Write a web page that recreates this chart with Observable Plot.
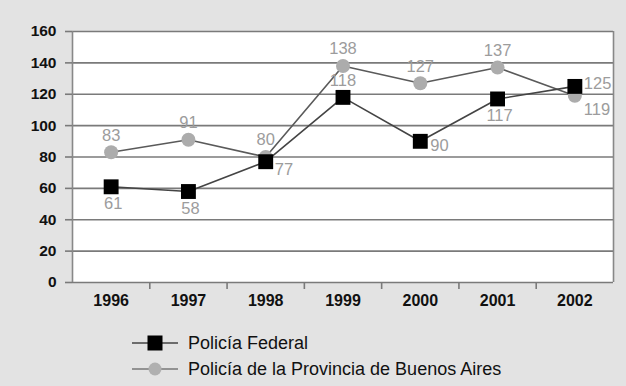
<!DOCTYPE html>
<html>
<head>
<meta charset="utf-8">
<script src="https://cdn.jsdelivr.net/npm/d3@7"></script>
<script src="https://cdn.jsdelivr.net/npm/@observablehq/plot@0.6"></script>
<style>
  html, body { margin: 0; padding: 0; background: #e3e3e3; width: 626px; height: 386px; overflow: hidden; font-family: "Liberation Sans", Arial, sans-serif; }
  #wrap { position: relative; width: 626px; height: 386px; }
  #legend { position: absolute; left: 130px; top: 330px; }
  .row { display: flex; align-items: center; height: 26px; }
  .row svg { display: block; margin-right: 8px; }
  .row span { font-size: 18px; color: #111; }
</style>
</head>
<body>
<div id="wrap">
  <div id="chart"></div>
  <div id="legend"></div>
</div>
<script>
const years = [1996, 1997, 1998, 1999, 2000, 2001, 2002];
const federal = [61, 58, 77, 118, 90, 117, 125];
const provincia = [83, 91, 80, 138, 127, 137, 119];
const yTicks = [0, 20, 40, 60, 80, 100, 120, 140, 160];
const seriesNames = ["Policía Federal", "Policía de la Provincia de Buenos Aires"];
// where each value label sits relative to its point
const federalLabelSide = ["below", "below", "belowright", "above", "right", "below", "upright"];
const provinciaLabelSide = ["above", "above", "above", "above", "above", "above", "lowright"];

const rows = [];
years.forEach((y, i) => {
  rows.push({year: y, value: federal[i], series: seriesNames[0], side: federalLabelSide[i]});
  rows.push({year: y, value: provincia[i], series: seriesNames[1], side: provinciaLabelSide[i]});
});
const fed = rows.filter(d => d.series === seriesNames[0]);
const prov = rows.filter(d => d.series === seriesNames[1]);
const boundaries = years.slice(0, -1).map(y => y + 0.5);

const labelStyle = {x: "year", y: "value", text: d => String(d.value), fill: "#9c9c9c", fontSize: 16.5};
const sideOpts = {
  above: {dy: -17, textAnchor: "middle"},
  below: {dy: 17, textAnchor: "middle", dx: 2},
  right: {dx: 10, dy: 4, textAnchor: "start"},
  upright: {dx: 9, dy: -3, textAnchor: "start"},
  belowright: {dx: 9, dy: 8, textAnchor: "start"},
  lowright: {dx: 9, dy: 14, textAnchor: "start"}
};
const labelMarks = Object.keys(sideOpts).map(k =>
  Plot.text(rows.filter(d => d.side === k), {...labelStyle, ...sideOpts[k]})
);

const chart = Plot.plot({
  width: 626,
  height: 318,
  marginLeft: 72,
  marginRight: 13,
  marginTop: 31,
  marginBottom: 36,
  style: {background: "transparent", fontFamily: "Liberation Sans, Arial, sans-serif", color: "#111"},
  x: {type: "linear", domain: [1995.5, 2002.5]},
  y: {domain: [0, 160]},
  marks: [
    Plot.frame({fill: "white", stroke: "none"}),
    Plot.gridY(yTicks, {stroke: "#7a7a7a", strokeOpacity: 1, strokeWidth: 1.6}),
    Plot.ruleX([1995.5, 2002.5], {stroke: "#888", strokeWidth: 1.6}),
    Plot.axisY(yTicks, {tickSize: 7, tickPadding: 9, stroke: "#7a7a7a", strokeWidth: 1.6, fontWeight: "bold", fontSize: 15.5, label: null}),
    Plot.axisX(boundaries, {tickSize: 7, tickFormat: () => "", stroke: "#7a7a7a", strokeWidth: 1.6, label: null}),
    Plot.axisX(years, {tickSize: 0, tickPadding: 12, tickFormat: d => String(d), fontWeight: "bold", fontSize: 16, label: null}),
    Plot.line(prov, {x: "year", y: "value", stroke: "#5a5a5a", strokeWidth: 1.6}),
    Plot.line(fed, {x: "year", y: "value", stroke: "#444", strokeWidth: 1.6}),
    Plot.dot(prov, {x: "year", y: "value", r: 7, fill: "#acacac", stroke: "none"}),
    Plot.dot(fed, {x: "year", y: "value", symbol: "square", r: 8.4, fill: "#000", stroke: "none"}),
    ...labelMarks
  ]
});
document.getElementById("chart").appendChild(chart);

// legend
const legend = d3.select("#legend");
const markers = [
  {name: seriesNames[0], line: "#444", draw: g => g.append("rect").attr("x", 17.5).attr("y", 5.5).attr("width", 15).attr("height", 15).attr("fill", "#000")},
  {name: seriesNames[1], line: "#777", draw: g => g.append("circle").attr("cx", 25).attr("cy", 13).attr("r", 6.5).attr("fill", "#b0b0b0")}
];
markers.forEach(m => {
  const row = legend.append("div").attr("class", "row");
  const svg = row.append("svg").attr("width", 50).attr("height", 26);
  svg.append("line").attr("x1", 2).attr("x2", 48).attr("y1", 13).attr("y2", 13).attr("stroke", m.line).attr("stroke-width", 1.6);
  m.draw(svg);
  row.append("span").text(m.name);
});
</script>
</body>
</html>
